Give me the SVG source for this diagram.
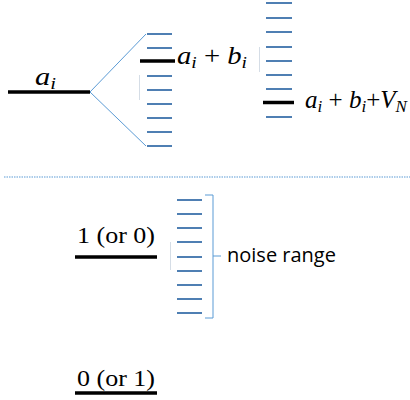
<svg xmlns="http://www.w3.org/2000/svg" width="410" height="400" viewBox="0 0 410 400">
<style>
.lvl{stroke:#000;stroke-width:3.5;fill:none}
.hash{stroke:#4f7fb3;stroke-width:2;fill:none}
.conn{stroke:#5b9bd5;stroke-width:1;fill:none}
.faint{stroke:#d5dde6;stroke-width:1;fill:none}
.math{font-family:"Liberation Serif","DejaVu Serif",serif;font-style:italic;font-size:25px;fill:#000}
.sub{font-size:17px}
.up{font-style:normal}
.num{font-family:"Liberation Serif","DejaVu Serif",serif;font-size:23px;fill:#000}
.lbl{font-family:"Open Sans","Liberation Sans",sans-serif;font-size:20px;fill:#000}
</style>
<rect width="410" height="400" fill="#fff"/>
<g id="connectors">
<line class="conn" x1="90" y1="92" x2="146" y2="34"/>
<line class="conn" x1="90" y1="92" x2="146" y2="146"/>
<line x1="4" y1="177" x2="410" y2="177" stroke="#5b9bd5" stroke-width="1" stroke-dasharray="1.5,1"/>
<path class="conn" d="M205,195 H213 V318 H205 M213,256 H221"/>
</g>
<g id="faint">
<line class="faint" x1="139.5" y1="75" x2="139.5" y2="100"/>
<line class="faint" x1="259.5" y1="47" x2="259.5" y2="72"/>
<line class="faint" x1="170.5" y1="242" x2="170.5" y2="270"/>
</g>
<g id="node-ai">
<line class="lvl" x1="8" y1="92" x2="90" y2="92"/>
<text class="math" x="35" y="85" textLength="21" lengthAdjust="spacingAndGlyphs">a<tspan class="sub" dy="4">i</tspan></text>
</g>
<g id="node-aibi">
<path class="hash" d="M147,34H172M147,48H172M147,76H172M147,90H172M147,104H172M147,118H172M147,132H172M147,146H172"/>
<line class="lvl" x1="140" y1="61" x2="175" y2="61"/>
<text class="math" x="177" y="64" textLength="70" lengthAdjust="spacingAndGlyphs">a<tspan class="sub" dy="4">i</tspan><tspan class="up" dy="-4"> + </tspan>b<tspan class="sub" dy="4">i</tspan></text>
</g>
<g id="node-aibivn">
<path class="hash" d="M266,3H292M266,18H292M266,32H292M266,47H292M266,61H292M266,75H292M266,89H292M266,117H292"/>
<line class="lvl" x1="263" y1="102.5" x2="294" y2="102.5"/>
<text class="math" x="305" y="108" textLength="102" lengthAdjust="spacingAndGlyphs">a<tspan class="sub" dy="4">i</tspan><tspan class="up" dy="-4"> + </tspan>b<tspan class="sub" dy="4">i</tspan><tspan class="up" dy="-4">+</tspan>V<tspan class="sub" dy="4">N</tspan></text>
</g>
<g id="node-one">
<line class="lvl" x1="75" y1="257" x2="157" y2="257"/>
<text class="num" x="77" y="243" textLength="78" lengthAdjust="spacingAndGlyphs">1 (or 0)</text>
</g>
<g id="node-noise">
<path class="hash" d="M177,200H202M177,214H202M177,228H202M177,242H202M177,257H202M177,271H202M177,285H202M177,299H202M177,313H202"/>
<text class="lbl" x="227" y="262">noise range</text>
</g>
<g id="node-zero">
<line class="lvl" x1="75" y1="393" x2="157" y2="393"/>
<text class="num" x="77" y="386" textLength="78" lengthAdjust="spacingAndGlyphs">0 (or 1)</text>
</g>
</svg>
